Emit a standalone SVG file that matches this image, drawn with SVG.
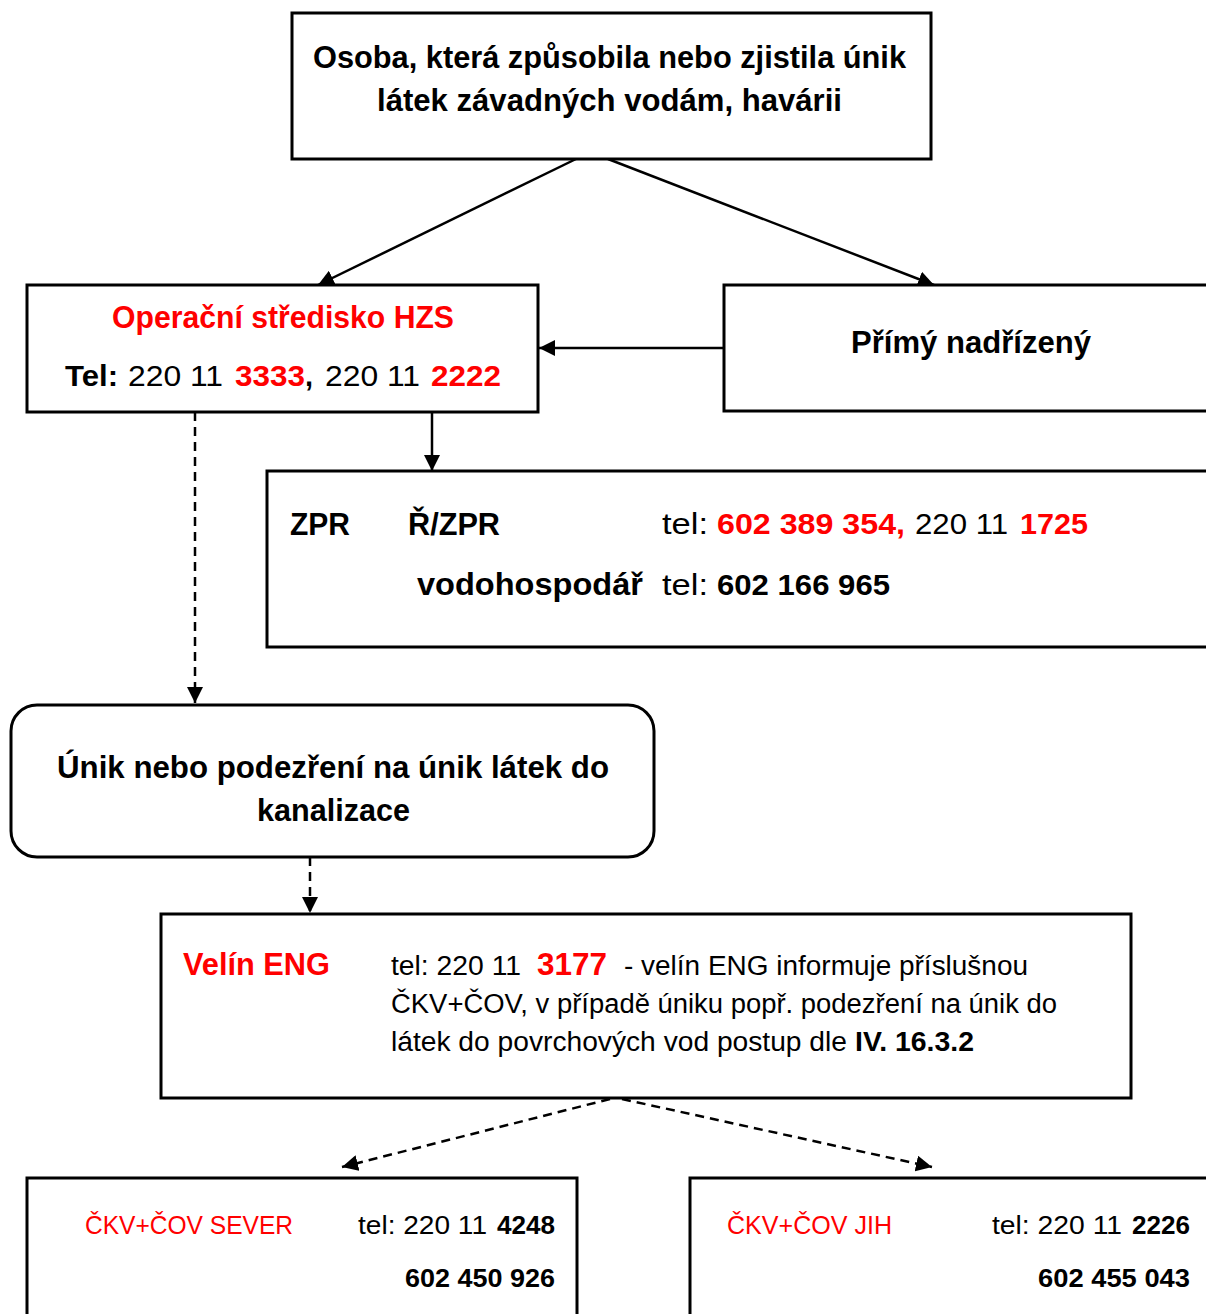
<svg xmlns="http://www.w3.org/2000/svg" width="1206" height="1314" viewBox="0 0 1206 1314">
<style>
.box{fill:#fff;stroke:#000;stroke-width:3}
.ln{fill:none;stroke:#000;stroke-width:2.5}
.dash{stroke-dasharray:9 6}
text{font-family:"Liberation Sans",Arial,sans-serif;fill:#000}
.b{font-weight:bold}
.r{fill:#ff0000}
.big{font-size:31px}
.m{font-size:29px}
.s{font-size:27px}
.xs{font-size:26px}
</style>
<defs>
<marker id="ah" viewBox="0 0 16 16" refX="16" refY="8" markerWidth="16" markerHeight="16" markerUnits="userSpaceOnUse" orient="auto">
<path d="M0,0 L16,8 L0,16 Z" fill="#000"/>
</marker>
</defs>
<rect width="1206" height="1314" fill="#fff"/>

<g id="connectors">
<line class="ln" x1="576" y1="159" x2="318" y2="285" marker-end="url(#ah)"/>
<line class="ln" x1="608" y1="159" x2="934" y2="285" marker-end="url(#ah)"/>
<line class="ln" x1="724" y1="348" x2="539" y2="348" marker-end="url(#ah)"/>
<line class="ln" x1="432" y1="412" x2="432" y2="471" marker-end="url(#ah)"/>
<line class="ln dash" x1="195" y1="412" x2="195" y2="703" marker-end="url(#ah)"/>
<line class="ln dash" x1="310" y1="857" x2="310" y2="913" marker-end="url(#ah)"/>
<line class="ln dash" x1="610" y1="1099" x2="342" y2="1167" marker-end="url(#ah)"/>
<line class="ln dash" x1="622" y1="1099" x2="932" y2="1167" marker-end="url(#ah)"/>
</g>

<g id="node-osoba">
<rect class="box" x="292" y="13" width="639" height="146"/>
<text class="b big" x="313" y="68" textLength="593" lengthAdjust="spacingAndGlyphs">Osoba, která způsobila nebo zjistila únik</text>
<text class="b big" x="377" y="111" textLength="465" lengthAdjust="spacingAndGlyphs">látek závadných vodám, havárii</text>
</g>

<g id="node-hzs">
<rect class="box" x="27" y="285" width="511" height="127"/>
<text class="b big r" x="112" y="328" textLength="342" lengthAdjust="spacingAndGlyphs">Operační středisko HZS</text>
<text class="b m" x="65" y="386" textLength="53" lengthAdjust="spacingAndGlyphs">Tel:</text>
<text class="m" x="128" y="386" textLength="95" lengthAdjust="spacingAndGlyphs">220 11</text>
<text class="b m r" x="235" y="386" textLength="70" lengthAdjust="spacingAndGlyphs">3333</text>
<text class="b m" x="305" y="386">,</text>
<text class="m" x="325" y="386" textLength="95" lengthAdjust="spacingAndGlyphs">220 11</text>
<text class="b m r" x="431" y="386" textLength="70" lengthAdjust="spacingAndGlyphs">2222</text>
</g>

<g id="node-primy">
<rect class="box" x="724" y="285" width="500" height="126"/>
<text class="b big" x="851" y="353" textLength="240" lengthAdjust="spacingAndGlyphs">Přímý nadřízený</text>
</g>

<g id="node-zpr">
<rect class="box" x="267" y="471" width="960" height="176"/>
<text class="b big" x="290" y="535" textLength="60" lengthAdjust="spacingAndGlyphs">ZPR</text>
<text class="b big" x="408" y="535" textLength="92" lengthAdjust="spacingAndGlyphs">Ř/ZPR</text>
<text class="m" x="662" y="534" textLength="46" lengthAdjust="spacingAndGlyphs">tel:</text>
<text class="b m r" x="717" y="534" textLength="188" lengthAdjust="spacingAndGlyphs">602 389 354,</text>
<text class="m" x="915" y="534" textLength="93" lengthAdjust="spacingAndGlyphs">220 11</text>
<text class="b m r" x="1020" y="534" textLength="68" lengthAdjust="spacingAndGlyphs">1725</text>
<text class="b big" x="417" y="595" textLength="226" lengthAdjust="spacingAndGlyphs">vodohospodář</text>
<text class="m" x="662" y="595" textLength="46" lengthAdjust="spacingAndGlyphs">tel:</text>
<text class="b m" x="717" y="595" textLength="173" lengthAdjust="spacingAndGlyphs">602 166 965</text>
</g>

<g id="node-unik">
<rect class="box" x="11" y="705" width="643" height="152" rx="26" ry="26"/>
<text class="b big" x="57" y="778" textLength="552" lengthAdjust="spacingAndGlyphs">Únik nebo podezření na únik látek do</text>
<text class="b big" x="257" y="821" textLength="153" lengthAdjust="spacingAndGlyphs">kanalizace</text>
</g>

<g id="node-velin">
<rect class="box" x="161" y="914" width="970" height="184"/>
<text class="b big r" x="183" y="975" textLength="147" lengthAdjust="spacingAndGlyphs">Velín ENG</text>
<text class="s" x="391" y="975" textLength="130" lengthAdjust="spacingAndGlyphs">tel: 220 11</text>
<text class="b big r" x="537" y="975" textLength="70" lengthAdjust="spacingAndGlyphs">3177</text>
<text class="s" x="624" y="975" textLength="404" lengthAdjust="spacingAndGlyphs">- velín ENG informuje příslušnou</text>
<text class="s" x="391" y="1013" textLength="666" lengthAdjust="spacingAndGlyphs">ČKV+ČOV, v případě úniku popř. podezření na únik do</text>
<text class="s" x="391" y="1051" textLength="456" lengthAdjust="spacingAndGlyphs">látek do povrchových vod postup dle</text>
<text class="b s" x="855" y="1051" textLength="119" lengthAdjust="spacingAndGlyphs">IV. 16.3.2</text>
</g>

<g id="node-sever">
<rect class="box" x="27" y="1178" width="550" height="160"/>
<text class="xs r" x="85" y="1234" textLength="208" lengthAdjust="spacingAndGlyphs">ČKV+ČOV SEVER</text>
<text class="xs" x="358" y="1234" textLength="129" lengthAdjust="spacingAndGlyphs">tel: 220 11</text>
<text class="b xs" x="497" y="1234" textLength="58" lengthAdjust="spacingAndGlyphs">4248</text>
<text class="b xs" x="405" y="1287" textLength="150" lengthAdjust="spacingAndGlyphs">602 450 926</text>
</g>

<g id="node-jih">
<rect class="box" x="690" y="1178" width="540" height="160"/>
<text class="xs r" x="727" y="1234" textLength="165" lengthAdjust="spacingAndGlyphs">ČKV+ČOV JIH</text>
<text class="xs" x="992" y="1234" textLength="130" lengthAdjust="spacingAndGlyphs">tel: 220 11</text>
<text class="b xs" x="1132" y="1234" textLength="58" lengthAdjust="spacingAndGlyphs">2226</text>
<text class="b xs" x="1038" y="1287" textLength="152" lengthAdjust="spacingAndGlyphs">602 455 043</text>
</g>
</svg>
